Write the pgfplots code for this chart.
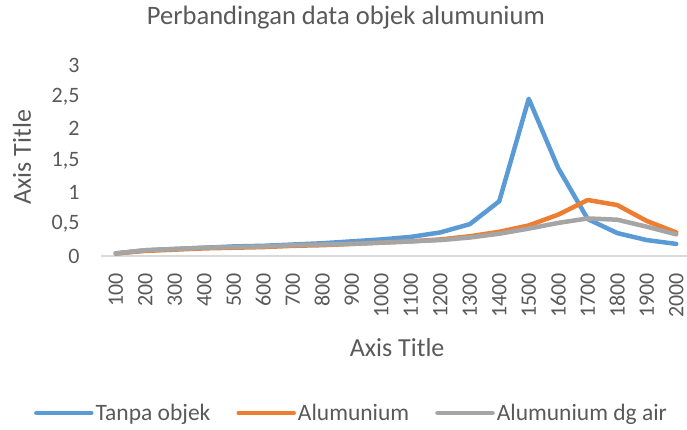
\documentclass[border=0pt]{standalone}
\usepackage{pgfplots}
\pgfplotsset{compat=1.18}
\usepackage{fontspec}
\setmainfont{Carlito}
\definecolor{cblue}{HTML}{5B9BD5}
\definecolor{corange}{HTML}{ED7D31}
\definecolor{cgray}{HTML}{A5A5A5}
\definecolor{txt}{HTML}{595959}
\definecolor{axl}{HTML}{D9D9D9}
\begin{document}
\begin{tikzpicture}
\begin{axis}[
  at={(101pt,173pt)}, anchor=south west,
  scale only axis, width=590pt, height=191pt,
  xmin=-0.5, xmax=19.5, ymin=0, ymax=3,
  xtick={0,...,19},
  xticklabels={100,200,300,400,500,600,700,800,900,1000,1100,1200,1300,1400,1500,1600,1700,1800,1900,2000},
  ytick={0,0.5,1,1.5,2,2.5,3},
  /pgf/number format/assume math mode=true,
  /pgf/number format/use comma,
  major tick length=0pt,
  axis x line*=bottom, axis y line*=left,
  y axis line style={draw=none},
  x axis line style={draw=axl, line width=1.3pt, -},
  tick label style={font=\fontsize{22}{26}\selectfont, text=txt},
  yticklabel style={anchor=east, xshift=-18pt},
  xticklabel style={rotate=90, anchor=east, inner sep=1pt, xshift=-16pt},
  title={Perbandingan data objek alumunium},
  title style={at={(0.415,1.215)}, anchor=center, font=\fontsize{26.6}{30}\selectfont, text=txt},
  xlabel={Axis Title},
  xlabel style={at={(0.502,-0.478)}, anchor=center, font=\fontsize{26}{30}\selectfont, text=txt},
  ylabel={Axis Title},
  ylabel style={at={(-0.134,0.518)}, anchor=center, rotate=0, font=\fontsize{26}{30}\selectfont, text=txt},
  legend columns=3,
  legend style={at={(0.4246,-0.822)}, anchor=center, draw=none, fill=none,
    font=\fontsize{23.5}{27}\selectfont, text=txt,
    /tikz/every even column/.append style={column sep=24pt},
    inner sep=0pt},
  legend image code/.code={\draw[#1, line cap=round] (0pt,0pt) -- (55pt,0pt);},
  every axis plot/.append style={line width=4.5pt, line join=round, line cap=round},
]
\addplot[cblue] coordinates {
(0,0.04) (1,0.09) (2,0.11) (3,0.13) (4,0.15) (5,0.16) (6,0.18) (7,0.20) (8,0.23) (9,0.26)
(10,0.30) (11,0.37) (12,0.50) (13,0.86) (14,2.47) (15,1.38) (16,0.58) (17,0.36) (18,0.25) (19,0.19)};
\addlegendentry{Tanpa objek}
\addplot[corange] coordinates {
(0,0.04) (1,0.08) (2,0.10) (3,0.12) (4,0.13) (5,0.14) (6,0.16) (7,0.17) (8,0.19) (9,0.21)
(10,0.23) (11,0.26) (12,0.31) (13,0.38) (14,0.48) (15,0.65) (16,0.88) (17,0.80) (18,0.55) (19,0.37)};
\addlegendentry{Alumunium}
\addplot[cgray] coordinates {
(0,0.04) (1,0.09) (2,0.11) (3,0.13) (4,0.14) (5,0.15) (6,0.17) (7,0.18) (8,0.19) (9,0.21)
(10,0.23) (11,0.25) (12,0.29) (13,0.35) (14,0.43) (15,0.52) (16,0.59) (17,0.57) (18,0.46) (19,0.34)};
\addlegendentry{Alumunium dg air}
\end{axis}
\pgfresetboundingbox
\useasboundingbox (0pt,0pt) rectangle (687pt,429pt);
\end{tikzpicture}
\end{document}
